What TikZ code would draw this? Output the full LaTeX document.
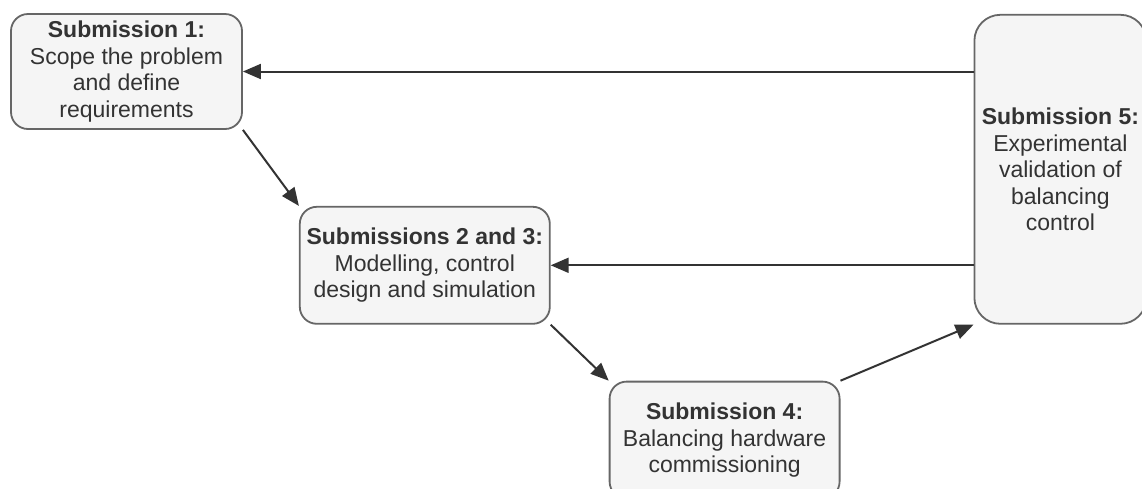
\documentclass[tikz,border=0pt]{standalone}
\usepackage{fontspec}
\setmainfont{Liberation Sans}
\usepackage{xcolor}
\usepackage{tikz}
\usetikzlibrary{positioning,arrows.meta}
\definecolor{boxfill}{HTML}{F5F5F5}
\definecolor{boxline}{HTML}{666666}
\definecolor{txtgray}{HTML}{333333}
\tikzset{
  sub/.style ={draw=boxline, fill=boxfill, line width=0.9pt, rounded corners=8.5pt, align=center,
               text=txtgray, font=\fontsize{11.5}{13.25}\selectfont, inner sep=2pt},
  ar/.style  ={-{Triangle[length=9pt,width=7.5pt]}, draw=txtgray, line width=1pt},
}

\begin{document}
\begin{tikzpicture}[x=0.5pt,y=-0.5pt]
\useasboundingbox (0,0) rectangle (1142,488);
\clip (0,0) rectangle (1142,488);
\node[sub,minimum width=115.5pt,minimum height=57.5pt] (sub1) at (126.5,71.5) {\textbf{Submission 1:}\\ Scope the problem\\ and define\\ requirements};
\node[sub,below right=38pt and 28pt of sub1,minimum width=125pt,minimum height=58.5pt] (sub23) {\textbf{Submissions 2 and 3:}\\ Modelling, control\\ design and simulation};
\node[sub,below right=28pt and 29pt of sub23,minimum width=115pt,minimum height=58.5pt] (sub4) {\textbf{Submission 4:}\\ Balancing hardware\\ commissioning};
\node[sub,above right=28pt and 66.5pt of sub4,minimum width=86pt,minimum height=154.5pt,rounded corners=13pt] (sub5) {\textbf{Submission 5:}\\ Experimental\\ validation of\\ balancing\\ control};
\draw[ar] (sub1.south east)--(sub23.north west); \draw[ar] (sub23.south east)--(sub4.north west);
\draw[ar] (sub4.north east)--(sub5.south west);
\draw[ar] (sub5.west |- sub1.east)--(sub1.east); \draw[ar] (sub5.west |- sub23.east)--(sub23.east);
\end{tikzpicture}
\end{document}
